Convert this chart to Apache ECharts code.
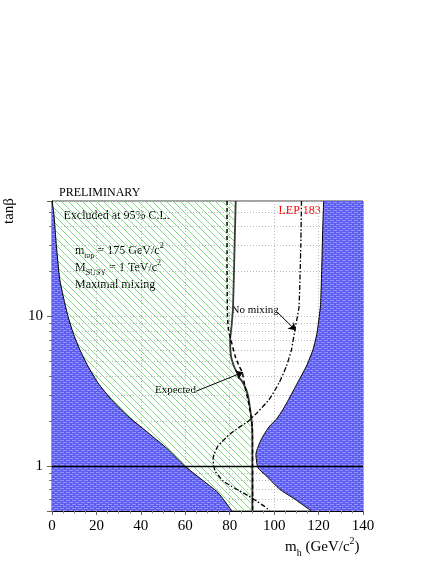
<!DOCTYPE html>
<html><head><meta charset="utf-8">
<script src="https://cdn.jsdelivr.net/npm/echarts@6/dist/echarts.min.js"></script>
<style>html,body{margin:0;padding:0;background:#fff}#c{width:436px;height:564px}</style>
</head><body><div id="c"></div>
<script>
// ---- data (m_h in GeV/c^2, tan beta) ----
const X_MIN = 0, X_MAX = 140, Y_MIN = 0.5, Y_MAX = 59;
const xTicks = [0, 20, 40, 60, 80, 100, 120, 140];
const yTickLabels = [1, 10];
const yMinor = [0.6, 0.7, 0.8, 0.9, 2, 3, 4, 5, 6, 7, 8, 9, 20, 30, 40, 50];
const leftBoundary = [[0,59],[0.8,49],[2,29.3],[3.5,17.6],[5.4,12.9],[7.2,10],[9.5,7.75],[12.5,6.0],[16.2,4.64],[20.7,3.59],[26.7,2.78],[34.2,2.15],[43.2,1.67],[52.2,1.29],[59.7,1.0],[67,0.82],[74.7,0.664],[81,0.5]];
const rightBoundary = [[122.3,59],[121.9,40],[121.4,20],[120.9,12],[120.3,10],[119.3,7.75],[117.5,6.0],[114.5,4.64],[110.5,3.59],[106.5,2.78],[104,2.39],[101,2.05],[98,1.85],[95.2,1.6],[93.5,1.43],[91.8,1.2],[92.7,0.975],[96.5,0.858],[102.5,0.699],[109.3,0.6],[116.8,0.5]];
const observed = [[82.7,59],[82.2,30],[81.5,11.6],[80.8,8.5],[80.2,7.0],[80.6,5.4],[82.0,4.6],[83.3,4.2],[83.9,3.95],[85.5,3.7],[87.2,3.3],[88.3,2.93],[89.0,2.51],[89.8,2.05],[90.2,1.6],[90.2,0.5]];
const expected = [[78.8,59],[78.8,20],[79.0,10],[79.5,8],[80.5,7],[82.5,5.4],[84.3,4.64],[85.7,4.19],[86.8,3.41],[88.2,2.78],[89.4,2.25],[90.2,1.8],[90.3,0.5]];
const noMixing = [[112.3,59],[112.0,30],[111.2,11.6],[110.2,9.5],[109.3,8.07],[107.8,6.0],[105.5,4.64],[102.2,3.59],[97.7,2.78],[92.7,2.3],[88.5,2.0],[84,1.8],[80,1.63],[76.5,1.45],[74.7,1.36],[73,1.2],[72.5,1.108],[72.8,1.0],[73.5,0.92],[75,0.86],[77,0.794],[80.5,0.735],[84.5,0.681],[88.5,0.63],[92,0.584],[95,0.545],[97.2,0.514],[97.7,0.5]];
const arrowExpected = [[64.9,3.16],[86,4.23]];
const arrowNoMix = [[101,10.8],[109.7,8.07]];

// ---- patterns ----
function bluePattern(){
  const c = document.createElement('canvas'); c.width = 6; c.height = 4;
  const g = c.getContext('2d');
  g.fillStyle = '#5c5cee'; g.fillRect(0,0,6,4);
  g.fillStyle = '#9292fc';
  g.fillRect(0,0,4,1); g.fillRect(3,2,3,1); g.fillRect(0,2,1,1);
  return c;
}
function greenPattern(){
  const c = document.createElement('canvas'); c.width = 7; c.height = 7;
  const g = c.getContext('2d');
  g.strokeStyle = '#7fdc7f'; g.lineWidth = 1;
  g.beginPath(); g.moveTo(-1,-1); g.lineTo(8,8); g.stroke();
  return c;
}
const blueFill = {image: bluePattern(), repeat: 'repeat'};
const greenFill = {image: greenPattern(), repeat: 'repeat'};

const leftPoly = leftBoundary.concat([[X_MIN, Y_MIN]]);
const rightPoly = rightBoundary.concat([[X_MAX, Y_MIN],[X_MAX, Y_MAX]]);
const greenPoly = observed.concat(leftBoundary.slice().reverse());

function polySeries(pts, fill){
  return {type:'custom', z:2, silent:true, clip:true, animation:false,
    data: pts,
    renderItem: function(params, api){
      if (params.dataIndex !== 0) return null;
      return {type:'polygon', shape:{points: pts.map(p => api.coord(p))}, style:{fill: fill, stroke: null}};
    }};
}
function lineSeries(pts, style, extra){
  return Object.assign({type:'line', z:3, data: pts, symbol:'none', showSymbol:false, smooth:0.2,
    silent:true, animation:false, lineStyle: style}, extra || {});
}

const FONT = '"Liberation Serif", "Times New Roman", serif';
const chart = echarts.init(document.getElementById('c'));
chart.setOption({
  animation: false,
  grid: {left: 52, top: 201, right: 73, bottom: 53, show: true, borderColor: '#444', borderWidth: 1, backgroundColor: '#fff'},
  xAxis: {
    type: 'value', min: X_MIN, max: X_MAX, interval: 20,
    axisLine: {lineStyle: {color: '#000', width: 1}},
    axisTick: {show: true, inside: false, length: 4, lineStyle: {color: '#666'}},
    minorTick: {show: true, splitNumber: 4, length: 2.5, lineStyle: {color: '#888'}},
    axisLabel: {fontFamily: FONT, fontSize: 15, color: '#000', margin: 8,
      formatter: v => xTicks.includes(v) ? String(v) : ''},
    splitLine: {show: true, lineStyle: {color: '#b8b8b8', type: [1, 2], width: 1}}
  },
  yAxis: {
    type: 'log', logBase: 10, min: Y_MIN, max: Y_MAX,
    axisLine: {lineStyle: {color: '#000', width: 1}},
    axisTick: {show: true, inside: false, length: 5, lineStyle: {color: '#666'}},
    axisLabel: {fontFamily: FONT, fontSize: 15, color: '#000', margin: 9,
      formatter: v => { const r = Math.round(v * 1000) / 1000; return yTickLabels.includes(r) ? String(r) : ''; }},
    splitLine: {show: true, lineStyle: {color: '#b8b8b8', type: [1, 2], width: 1}}
  },
  series: [
    {type:'custom', z:1, silent:true, animation:false, clip:false,
      data: yMinor.map(v => [X_MIN, v]),
      renderItem: function(params, api){
        const v = api.value(1);
        const a = api.coord([X_MIN, v]), b = api.coord([X_MAX, v]);
        const y = Math.round(a[1]) + 0.5;
        return {type:'group', children:[
          {type:'line', shape:{x1:a[0], y1:y, x2:b[0], y2:y}, style:{stroke:'#b8b8b8', lineWidth:1, lineDash:[1,2]}},
          {type:'line', shape:{x1:a[0]-3, y1:y, x2:a[0], y2:y}, style:{stroke:'#777', lineWidth:1}}
        ]};
      }},
    polySeries(greenPoly, greenFill),
    polySeries(leftPoly, blueFill),
    polySeries(rightPoly, blueFill),
    lineSeries(leftBoundary, {color:'#000', width:1}, {
      markLine: {silent:true, symbol:'none', animation:false, label:{show:false},
        lineStyle:{color:'#000', type:'solid', width:1.3}, data:[{yAxis: 1}]}}),
    lineSeries(rightBoundary, {color:'#000', width:1}),
    lineSeries(observed, {color:'#3a3a3a', width:1.8}),
    lineSeries(expected, {color:'#000', width:1.5, type:[4, 3]}),
    lineSeries(noMixing, {color:'#000', width:1.3, type:[5, 2, 1.5, 2]}),
    {type:'lines', coordinateSystem:'cartesian2d', z:5, silent:true, animation:false,
      symbol:['none','arrow'], symbolSize:7,
      lineStyle:{color:'#000', width:1, opacity:1},
      data:[{coords: arrowExpected}, {coords: arrowNoMix}]}
  ],
  graphic: [
    {type:'text', x:59, y:192.5, style:{text:'PRELIMINARY', font:'12px ' + FONT, fill:'#000', verticalAlign:'middle'}},
    {type:'text', x:9, y:211, rotation: Math.PI/2, style:{text:'tanβ', font:'15px ' + FONT, fill:'#000', align:'center', verticalAlign:'middle'}},
    {type:'text', x:63.5, y:215.5, style:{text:'Excluded at 95% C.L.', font:'12px ' + FONT, fill:'#000', verticalAlign:'middle'}},
    {type:'text', x:75, y:242, style:{text:'{b|m}{s|top}{b| = 175 GeV/c}{p|2}', fill:'#000',
      rich:{b:{font:'12px ' + FONT, lineHeight:18, verticalAlign:'middle'}, s:{font:'8px ' + FONT, lineHeight:18, verticalAlign:'bottom'}, p:{font:'8px ' + FONT, lineHeight:18, verticalAlign:'top'}}}},
    {type:'text', x:75, y:258.5, style:{text:'{b|M}{s|SUSY}{b| = 1 TeV/c}{p|2}', fill:'#000',
      rich:{b:{font:'12px ' + FONT, lineHeight:18, verticalAlign:'middle'}, s:{font:'8px ' + FONT, lineHeight:18, verticalAlign:'bottom'}, p:{font:'8px ' + FONT, lineHeight:18, verticalAlign:'top'}}}},
    {type:'text', x:75, y:285, style:{text:'Maximal mixing', font:'12px ' + FONT, fill:'#000', verticalAlign:'middle'}},
    {type:'text', x:278.5, y:211, style:{text:'LEP 183', font:'12px ' + FONT, fill:'#ff0000', verticalAlign:'middle'}},
    {type:'text', x:231.5, y:310, style:{text:'No mixing', font:'11px ' + FONT, fill:'#000', verticalAlign:'middle'}},
    {type:'text', x:155, y:390, style:{text:'Expected', font:'11px ' + FONT, fill:'#000', verticalAlign:'middle'}},
    {type:'text', x:285, y:536, style:{text:'{b|m}{s|h}{b| (GeV/c}{p|2}{b|)}', fill:'#000',
      rich:{b:{font:'15px ' + FONT, lineHeight:22, verticalAlign:'middle'}, s:{font:'10px ' + FONT, lineHeight:22, verticalAlign:'bottom'}, p:{font:'10px ' + FONT, lineHeight:22, verticalAlign:'top'}}}}
  ]
});
</script></body></html>
